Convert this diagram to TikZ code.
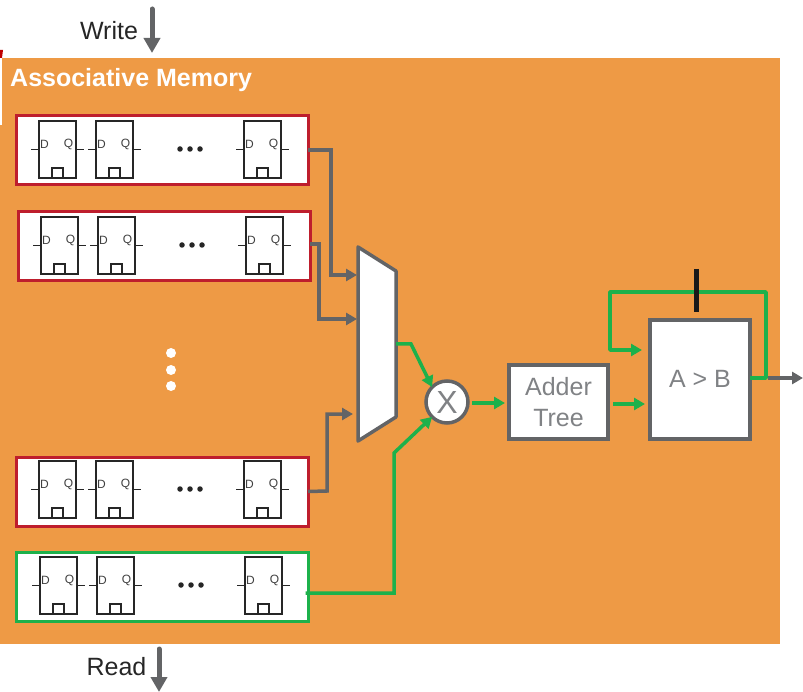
\documentclass[tikz,border=0pt]{standalone}
\usepackage{fontspec}
\setmainfont{Liberation Sans}
\usetikzlibrary{arrows.meta,positioning}
\definecolor{memorange}{HTML}{EE9A45}
\definecolor{rowred}{HTML}{BE1E2D}
\definecolor{wiregreen}{HTML}{1DB14B}
\definecolor{wiregray}{HTML}{636466}
\definecolor{textgray}{HTML}{808285}
\tikzset{
  row box/.style={draw=#1,fill=white,line width=3pt,minimum width=292pt,minimum height=69pt,inner sep=0pt,outer sep=0pt},
  logic box/.style={draw=wiregray,fill=white,line width=3.5pt,text=textgray,font=\fontsize{25}{30}\selectfont,align=center,inner sep=0pt,outer sep=0pt},
  flop box/.style={draw=black!85,line width=1.1pt,minimum width=37pt,minimum height=57pt,inner sep=0pt,outer sep=0pt},
  clk box/.style={draw=black!85,line width=1.1pt,minimum width=11pt,minimum height=10pt,inner sep=0pt,outer sep=0pt},
  pin label/.style={inner sep=0pt,text=black!75,font=\fontsize{12}{12}\selectfont},
  dot/.style={circle,fill=#1,inner sep=0pt,outer sep=0pt},
  gray wire/.style={draw=wiregray,line width=3.5pt,-{Triangle[length=11pt,width=12pt]}},
  green wire/.style={draw=wiregreen,line width=3.5pt,-{Triangle[length=11pt,width=12pt]}},
  big arrow/.style={draw=wiregray,line width=5pt,line cap=round,-{Triangle[length=15pt,width=16pt]}},
  flop/.pic={
    \node[flop box] (-box) at (0,0) {};
    \node[clk box,above=0pt of -box.south] (-clk) {};
    \node[pin label] (-d) at (-13,-5) {D};
    \node[pin label] (-q) at (11,-5) {Q};
    \draw[black!85,line width=1.1pt] (-box.west) -- ++(-8,0);
    \draw[black!85,line width=1.1pt] (-box.east) -- ++(8,0);
  }
}
\begin{document}
\begin{tikzpicture}[x=1pt,y=-1pt]
  \useasboundingbox (0,0) rectangle (803,692);

  \node[fill=memorange,minimum width=780pt,minimum height=586pt,inner sep=0pt,outer sep=0pt] (mem) at (390,351) {};
  \fill[red!75!black] (0,50) -- (3,50) -- (2,58) -- (0,58) -- cycle;
  \fill[white] (0,58) rectangle (2,125);
  \node[anchor=west,inner sep=0pt,text=white,font=\fontsize{25}{30}\selectfont\bfseries] (title) at (10,80) {Associative Memory};

  % write and read ports
  \node[inner sep=0pt,text=black!85,font=\fontsize{25}{30}\selectfont] (write) at (109,31) {Write};
  \node[inner sep=0pt,text=black!85,font=\fontsize{25}{30}\selectfont] (read) at (116.5,667) {Read};
  \coordinate (write top) at (152,9);
  \coordinate (write end) at (152,53);
  \coordinate (read top) at (159,649);
  \coordinate (read end) at (159,692);
  \draw[big arrow] (write top) -- (write end);
  \draw[big arrow] (read top) -- (read end);

  % memory rows
  \foreach \row/\cx/\cy/\dx/\dy/\col in {row1/162/150/0/0/rowred,row2/164/246/2/96/rowred,row3/162/491.5/0/340/rowred,row4/162.5/587/1/436/wiregreen}{
    \node[row box=\col] (\row) at (\cx,\cy) {};
    \foreach \fx [count=\i] in {57.5,114.5,262.5}
      \pic (\row-f\i) at (\fx+\dx,149.5+\dy) {flop};
    \foreach \ex [count=\i] in {180,190,200}
      \node[dot=black!85,minimum size=5.5pt] (\row-dot\i) at (\ex+\dx,149+\dy) {};
  }
  \node[dot=white,minimum size=10pt] (gap1) at (171,353) {};
  \node[dot=white,minimum size=10pt] (gap2) at (171,370) {};
  \node[dot=white,minimum size=10pt] (gap3) at (171,386) {};

  % datapath
  \draw[wiregray,fill=white,line width=3.5pt,line join=round] (358,247) coordinate (mux tl) -- (396,271) coordinate (mux tr) -- (396,417) coordinate (mux br) -- (358,441) coordinate (mux bl) -- cycle;
  \node[logic box,circle,minimum size=42pt,font=\fontsize{32}{36}\selectfont] (mult) at (447,402) {X};
  \node[logic box,minimum width=99pt,minimum height=74pt] (adder) at (558.5,402) {Adder\\[1pt]Tree};
  \node[logic box,minimum width=100pt,minimum height=119pt] (cmp) at (700,379.5) {};
  \node[inner sep=0pt,text=textgray,font=\fontsize{25}{30}\selectfont] (cmp text) at (700,379) {A > B};

  \coordinate (mux in1) at (357,275);
  \coordinate (mux in2) at (357,319);
  \coordinate (mux in3) at (353,414);
  \coordinate (mux out) at (396,344);
  \coordinate (fb corner) at (766,378);
  \coordinate (out end) at (803,378);
  \coordinate (fb in) at (642,350);

  \draw[gray wire] (row1.east) -- (331,150) -- (331,275) -- (mux in1);
  \draw[gray wire] ([yshift=2pt]row2.east) -- (319,244) -- (319,319) -- (mux in2);
  \draw[gray wire] (row3.east) -- (327,491) -- (327,414) -- (mux in3);
  \draw[green wire] ([yshift=-6pt]row4.east) ++(-3,0) -- (394,593) -- (394,453) -- (mult.225);
  \draw[green wire] (mux out) -- (411,344) -- (mult.135);
  \draw[green wire] (472,403) -- ([xshift=-4pt]adder.west |- 0,403);
  \draw[green wire] (613,404) -- ([xshift=-5pt]cmp.west |- 0,404);
  \draw[green wire,-,line join=round] (cmp.east |- fb corner) -- (fb corner) -- (766,292) -- (610,292) -- (610,350) -- (622,350);
  \draw[green wire] (622,350) -- (fb in);
  \draw[gray wire] (768,378) -- (out end);
  \coordinate (tick top) at (696,269);
  \coordinate (tick end) at (696,312);
  \draw[black!90,line width=5pt] (tick top) -- (tick end);
\end{tikzpicture}
\end{document}
